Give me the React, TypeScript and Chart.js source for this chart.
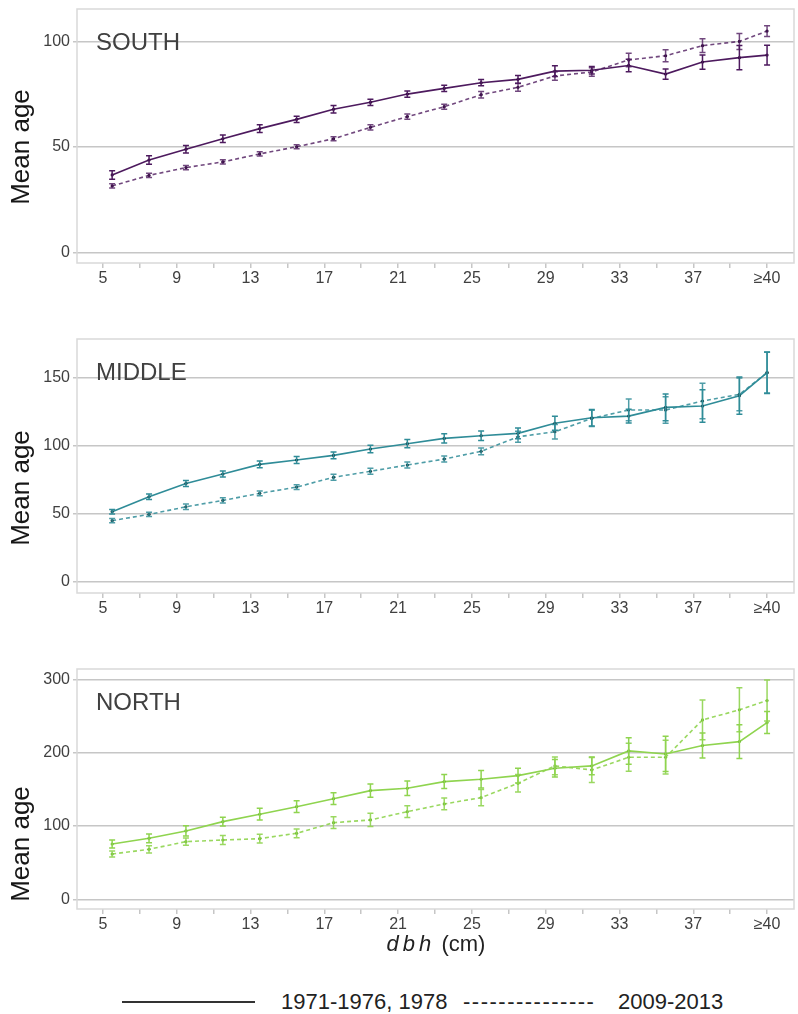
import React, { useEffect, useRef } from "react";
import { Chart, registerables } from "chart.js";

Chart.register(...registerables);

// ---- data ----
// mean dbh position of each class on the x axis (the last class is "≥40")
const dbhClassX = [5.5, 7.5, 9.5, 11.5, 13.5, 15.5, 17.5, 19.5, 21.5, 23.5, 25.5, 27.5, 29.5, 31.5, 33.5, 35.5, 37.5, 39.5, 41];
const xTickValues = [5, 7, 9, 11, 13, 15, 17, 19, 21, 23, 25, 27, 29, 31, 33, 35, 37, 39, 41];
const xTickLabels = ["5", "", "9", "", "13", "", "17", "", "21", "", "25", "", "29", "", "33", "", "37", "", "≥40"];

const seriesNames = ["1971-1976, 1978", "2009-2013"];

const southTicks = [0, 50, 100];
const southEarly = [36.7, 43.8, 48.9, 53.9, 58.7, 63.1, 67.9, 71.2, 75.1, 77.8, 80.5, 82.1, 86.0, 86.4, 88.7, 84.6, 90.3, 92.4, 93.6];
const southEarlyErr = [2, 2, 1.8, 1.8, 1.8, 1.5, 1.8, 1.5, 1.5, 1.5, 1.5, 1.8, 2.5, 1.8, 3, 2.4, 3.4, 5.8, 4.7];
const southRecent = [31.5, 36.5, 40.2, 42.9, 46.7, 50.1, 53.9, 59.3, 64.4, 69.1, 74.8, 78.3, 83.7, 85.6, 91.3, 93.3, 98.1, 100.1, 105.0];
const southRecentErr = [1, 1, 1, 1, 1, 1, 1, 1.2, 1.2, 1.2, 1.5, 1.8, 2, 2, 3.2, 2.8, 3.3, 3.8, 2.6];

const middleTicks = [0, 50, 100, 150];
const middleEarly = [51.5, 62.5, 72.3, 79.2, 86.3, 89.5, 92.9, 97.6, 101.5, 105.4, 107.4, 109.1, 116.5, 120.6, 121.8, 128.2, 129.2, 136.8, 153.7];
const middleEarlyErr = [1.7, 2, 2.2, 2.2, 2.5, 2.5, 2.5, 2.8, 3, 3.4, 3.5, 4, 5.1, 6, 5, 9.8, 12, 13.7, 15.3];
const middleRecent = [44.9, 49.5, 55.1, 59.8, 65.0, 69.6, 76.8, 81.2, 85.8, 90.2, 95.9, 106.6, 110.3, 120.1, 126.3, 126.3, 132.9, 137.8, 153.7];
const middleRecentErr = [1.5, 1.5, 2, 2, 1.8, 1.8, 2.2, 2.2, 2.2, 2.2, 2.5, 4, 5.4, 6, 8, 9.8, 13, 12, 15];

const northTicks = [0, 100, 200, 300];
const northEarly = [75.4, 83.2, 93.2, 105.9, 116.0, 126.3, 137.2, 148.2, 151.4, 160.5, 163.7, 168.6, 178.7, 181.9, 202.3, 198.2, 209.6, 215.0, 241.0];
const northEarlyErr = [5.5, 6, 7, 6, 8, 8, 8, 9, 10, 9.5, 12, 10, 12, 12, 18, 24, 17, 23, 15];
const northRecent = [61.8, 68.2, 78.6, 80.9, 82.7, 90.0, 104.5, 108.2, 119.5, 130.0, 138.6, 158.2, 181.9, 176.4, 193.7, 193.7, 244.6, 258.3, 271.0];
const northRecentErr = [4, 5, 5, 6, 6, 6, 8, 9, 8, 8, 11, 12, 12, 17, 19, 23, 27, 30, 28];

// ---- styling ----
const FONT = "'Liberation Sans', Arial, Helvetica, sans-serif";
const GRID = "#c6c6c6";
const BOX = "#d9d9d9";
const TEXT = "#404040";

type PanelCfg = {
  name: string;
  top: number;
  height: number;
  areaBottom: number;
  titleY: number;
  yMin: number;
  yMax: number;
  ticks: number[];
  color: string;
  dashColor: string;
  pointColor: string;
  early: number[];
  earlyErr: number[];
  recent: number[];
  recentErr: number[];
};

const panels: PanelCfg[] = [
  {
    name: "SOUTH", top: 0, height: 290, areaBottom: 263, titleY: 147, yMin: -5.1, yMax: 115.5, ticks: southTicks,
    color: "#4d1a5e", dashColor: "rgba(77,26,94,0.8)", pointColor: "#2e0a3a",
    early: southEarly, earlyErr: southEarlyErr, recent: southRecent, recentErr: southRecentErr,
  },
  {
    name: "MIDDLE", top: 330, height: 290, areaBottom: 263, titleY: 158, yMin: -8.3, yMax: 178.5, ticks: middleTicks,
    color: "#2f8c98", dashColor: "rgba(47,140,152,0.85)", pointColor: "#173c40",
    early: middleEarly, earlyErr: middleEarlyErr, recent: middleRecent, recentErr: middleRecentErr,
  },
  {
    name: "NORTH", top: 660, height: 276, areaBottom: 249, titleY: 184, yMin: -13.2, yMax: 314, ticks: northTicks,
    color: "#8fd44f", dashColor: "rgba(143,212,79,0.9)", pointColor: "#6fb834",
    early: northEarly, earlyErr: northEarlyErr, recent: northRecent, recentErr: northRecentErr,
  },
];

const errorBarPlugin = {
  id: "errorBars",
  afterDatasetsDraw(chart: any) {
    const ctx = chart.ctx;
    const yScale = chart.scales.y;
    chart.data.datasets.forEach((ds: any, di: number) => {
      const errs: number[] = ds.errors;
      if (!errs) return;
      const meta = chart.getDatasetMeta(di);
      ctx.save();
      ctx.strokeStyle = ds.borderColor;
      ctx.lineWidth = 1.5;
      ctx.setLineDash([]);
      meta.data.forEach((pt: any, i: number) => {
        const v = ds.data[i].y;
        const e = errs[i];
        const x = pt.x;
        const y1 = yScale.getPixelForValue(v + e);
        const y2 = yScale.getPixelForValue(v - e);
        ctx.beginPath();
        ctx.moveTo(x, y1);
        ctx.lineTo(x, y2);
        ctx.moveTo(x - 3, y1);
        ctx.lineTo(x + 3, y1);
        ctx.moveTo(x - 3, y2);
        ctx.lineTo(x + 3, y2);
        ctx.stroke();
      });
      ctx.restore();
    });
  },
};

const boxPlugin = {
  id: "plotBox",
  beforeDatasetsDraw(chart: any) {
    const { ctx, chartArea } = chart;
    ctx.save();
    ctx.strokeStyle = BOX;
    ctx.lineWidth = 1.5;
    ctx.strokeRect(chartArea.left, chartArea.top, chartArea.right - chartArea.left, chartArea.bottom - chartArea.top);
    ctx.restore();
  },
};

const labelPlugin = {
  id: "panelLabels",
  afterDraw(chart: any, _args: any, opts: any) {
    const { ctx, chartArea } = chart;
    ctx.save();
    ctx.fillStyle = TEXT;
    ctx.font = `24px ${FONT}`;
    ctx.textBaseline = "alphabetic";
    ctx.textAlign = "left";
    ctx.fillText(opts.name, chartArea.left + 19, chartArea.top + 41);
    ctx.fillStyle = "#161616";
    ctx.font = `26px ${FONT}`;
    ctx.translate(22, opts.titleY);
    ctx.rotate(-Math.PI / 2);
    ctx.textAlign = "center";
    ctx.textBaseline = "middle";
    ctx.fillText("Mean age", 0, 0);
    ctx.restore();
  },
};

function Panel({ cfg }: { cfg: PanelCfg }) {
  const ref = useRef<HTMLCanvasElement>(null);
  useEffect(() => {
    if (!ref.current) return;
    const chart = new Chart(ref.current, {
      type: "line",
      data: {
        datasets: [
          {
            label: seriesNames[0],
            data: dbhClassX.map((x, i) => ({ x, y: cfg.early[i] })),
            errors: cfg.earlyErr,
            borderColor: cfg.color,
            borderWidth: 1.6,
            pointRadius: 1.6,
            pointBackgroundColor: cfg.pointColor,
            pointBorderWidth: 0,
            tension: 0,
          } as any,
          {
            label: seriesNames[1],
            data: dbhClassX.map((x, i) => ({ x, y: cfg.recent[i] })),
            errors: cfg.recentErr,
            borderColor: cfg.dashColor,
            borderDash: [4, 3],
            borderWidth: 1.6,
            pointRadius: 1.6,
            pointBackgroundColor: cfg.pointColor,
            pointBorderWidth: 0,
            tension: 0,
          } as any,
        ],
      },
      options: {
        responsive: false,
        animation: false,
        devicePixelRatio: 1,
        layout: { padding: { top: 9, right: 2, left: 0, bottom: 0 } },
        plugins: {
          legend: { display: false },
          tooltip: { enabled: false },
          panelLabels: { name: cfg.name, titleY: cfg.titleY },
        } as any,
        scales: {
          x: {
            type: "linear",
            min: 3.595,
            max: 42.46,
            afterBuildTicks: (s: any) => {
              s.ticks = xTickValues.map((v) => ({ value: v }));
            },
            afterFit: (s: any) => {
              s.height = cfg.height - cfg.areaBottom;
              s.paddingLeft = 0;
              s.paddingRight = 0;
            },
            grid: { drawOnChartArea: false, color: GRID, lineWidth: 1.5, tickLength: 5 },
            border: { display: false },
            ticks: {
              autoSkip: false,
              maxRotation: 0,
              padding: 1,
              color: TEXT,
              font: { family: FONT, size: 16 },
              callback: (_v: any, i: number) => xTickLabels[i],
            },
          },
          y: {
            type: "linear",
            min: cfg.yMin,
            max: cfg.yMax,
            afterBuildTicks: (s: any) => {
              s.ticks = cfg.ticks.map((v) => ({ value: v }));
            },
            afterFit: (s: any) => {
              s.width = 77;
              s.paddingTop = 0;
              s.paddingBottom = 0;
            },
            grid: { color: GRID, lineWidth: 1.5, tickLength: 4 },
            border: { display: false },
            ticks: {
              padding: 3,
              color: TEXT,
              font: { family: FONT, size: 16 },
            },
          },
        },
      } as any,
      plugins: [boxPlugin, errorBarPlugin, labelPlugin],
    });
    return () => chart.destroy();
  }, [cfg]);
  return (
    <canvas
      ref={ref}
      width={798}
      height={cfg.height}
      style={{ position: "absolute", left: 0, top: cfg.top, width: 798, height: cfg.height }}
    />
  );
}

export default function App() {
  const txt: React.CSSProperties = {
    position: "absolute",
    top: 990,
    height: 24,
    lineHeight: "24px",
    fontFamily: FONT,
    fontSize: 22,
    color: "#222",
    whiteSpace: "nowrap",
  };
  return (
    <div style={{ position: "absolute", left: 0, top: 0, width: 798, height: 1014, background: "#fff", overflow: "hidden" }}>
      {panels.map((p) => (
        <Panel key={p.name} cfg={p} />
      ))}
      <div
        style={{
          position: "absolute",
          left: 0,
          width: 872,
          top: 931,
          textAlign: "center",
          fontFamily: FONT,
          fontSize: 22,
          lineHeight: "26px",
          color: "#222",
          whiteSpace: "nowrap",
        }}
      >
        <span style={{ fontStyle: "italic", letterSpacing: 4 }}>dbh</span> (cm)
      </div>
      <div style={{ position: "absolute", left: 122, top: 1001, width: 133, height: 2, background: "#333" }} />
      <div style={{ ...txt, left: 281 }}>{seriesNames[0]}</div>
      <div style={{ ...txt, left: 463, letterSpacing: 1.5 }}>---------------</div>
      <div style={{ ...txt, left: 618 }}>{seriesNames[1]}</div>
    </div>
  );
}
